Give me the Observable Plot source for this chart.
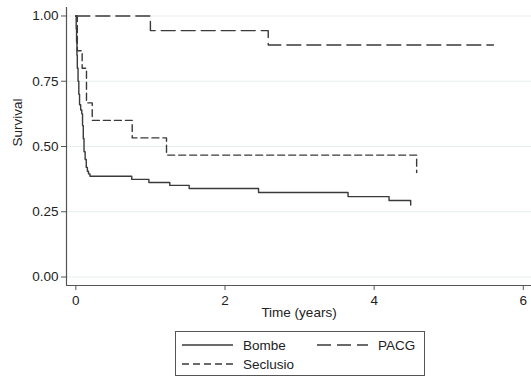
<!DOCTYPE html>
<html>
<head>
<meta charset="utf-8">
<script src="https://cdn.jsdelivr.net/npm/d3@7"></script>
<script src="https://cdn.jsdelivr.net/npm/@observablehq/plot@0.6"></script>
<style>
  html, body { margin: 0; padding: 0; background: #fff; overflow: hidden; }
  #wrap { position: relative; width: 531px; height: 376px; font-family: "Liberation Sans", Arial, sans-serif; }
  #legend { position: absolute; left: 175px; top: 331px; }
</style>
</head>
<body>
<div id="wrap"><div id="chart"></div><div id="legend"></div></div>
<script>
// ---- data ----
const seriesNames = ["Bombe", "PACG", "Seclusio"];

const bombeTime = [0, 0.005, 0.01, 0.015, 0.02, 0.03, 0.04, 0.05, 0.065, 0.08, 0.09, 0.10, 0.11, 0.125, 0.14, 0.155, 0.17, 0.19, 0.75, 0.98, 1.26, 1.52, 2.45, 3.65, 4.20, 4.49];
const bombeSurv = [1, 0.95, 0.90, 0.85, 0.80, 0.75, 0.70, 0.66, 0.64, 0.625, 0.58, 0.53, 0.48, 0.45, 0.42, 0.405, 0.395, 0.386, 0.374, 0.362, 0.351, 0.339, 0.324, 0.308, 0.293, 0.276];

const pacgTime = [0, 1.00, 2.58, 5.60];
const pacgSurv = [1, 0.944, 0.889, 0.889];

const seclTime = [0, 0.02, 0.085, 0.143, 0.22, 0.756, 1.216, 4.57, 4.571];
const seclSurv = [1, 0.867, 0.80, 0.667, 0.60, 0.533, 0.467, 0.40, 0.40];

const yTicks = [0, 0.25, 0.5, 0.75, 1];
const xTicks = [0, 2, 4, 6];

const dashes = {Bombe: null, PACG: "14,6", Seclusio: "7,4"};
const lineColor = "#3a3a3a";
const textColor = "#222";
const fs = 13.5;

const rows = (name, ts, ss) => ts.map((t, i) => ({series: name, time: t, surv: ss[i]}));
const bombe = rows("Bombe", bombeTime, bombeSurv);
const pacg = rows("PACG", pacgTime, pacgSurv);
const secl = rows("Seclusio", seclTime, seclSurv);

const xMin = -0.125, xMax = 6.11, yMin = -0.0325, yMax = 1.0325;

const chart = Plot.plot({
  width: 531,
  height: 330,
  marginTop: 7,
  marginBottom: 45,
  marginLeft: 66,
  marginRight: 0,
  style: {fontFamily: '"Liberation Sans", Arial, sans-serif', fontSize: fs + "px", color: textColor, background: "#fff"},
  x: {domain: [xMin, xMax]},
  y: {domain: [yMin, yMax]},
  marks: [
    Plot.gridY(yTicks, {stroke: "#e6eef0", strokeOpacity: 1, strokeWidth: 1}),
    Plot.ruleX([xMin], {stroke: "#555", strokeWidth: 1.2}),
    Plot.ruleY([yMin], {stroke: "#555", strokeWidth: 1.2}),
    Plot.axisY({ticks: yTicks, tickFormat: d3.format(".2f"), tickSize: 5, tickPadding: 3, label: null, stroke: "#555", fill: textColor, fontSize: fs}),
    Plot.axisX({ticks: xTicks, tickFormat: d3.format("d"), tickSize: 5, tickPadding: 5, label: null, stroke: "#555", fill: textColor, fontSize: fs}),
    Plot.text(["Survival"], {frameAnchor: "left", dx: -49, rotate: -90, fill: textColor, fontSize: fs}),
    Plot.text(["Time (years)"], {frameAnchor: "bottom", dy: 31, fill: textColor, fontSize: fs}),
    Plot.line(bombe, {x: "time", y: "surv", curve: "step-after", stroke: lineColor, strokeWidth: 1.4}),
    Plot.line(pacg, {x: "time", y: "surv", curve: "step-after", stroke: lineColor, strokeWidth: 1.4, strokeDasharray: dashes.PACG}),
    Plot.line(secl, {x: "time", y: "surv", curve: "step-after", stroke: lineColor, strokeWidth: 1.4, strokeDasharray: dashes.Seclusio})
  ]
});
document.getElementById("chart").appendChild(chart);

// ---- legend ----
const lg = d3.select("#legend").append("svg").attr("width", 251).attr("height", 45)
  .style("font-family", '"Liberation Sans", Arial, sans-serif').style("font-size", fs + "px");
lg.append("rect").attr("x", 0.5).attr("y", 0.5).attr("width", 249).attr("height", 44)
  .attr("fill", "#fff").attr("stroke", "#555");
const items = [
  {name: seriesNames[0], x: 7, y: 14},
  {name: seriesNames[1], x: 142, y: 14},
  {name: seriesNames[2], x: 7, y: 33}
];
items.forEach(it => {
  lg.append("line").attr("x1", it.x).attr("x2", it.x + 51).attr("y1", it.y).attr("y2", it.y)
    .attr("stroke", lineColor).attr("stroke-width", 1.4)
    .attr("stroke-dasharray", dashes[it.name] || null);
  lg.append("text").attr("x", it.x + 61).attr("y", it.y).attr("dy", "0.35em")
    .attr("fill", textColor).text(it.name);
});
</script>
</body>
</html>
